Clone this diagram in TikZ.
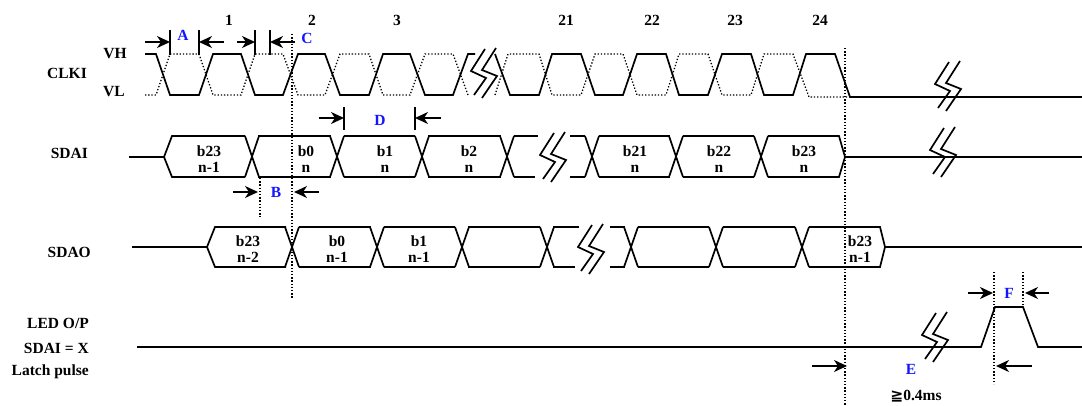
\documentclass[tikz,border=0pt]{standalone}
\usepackage{fontspec}
\setmainfont{Liberation Serif}
\newfontfamily\symfont{DejaVu Sans}
\usetikzlibrary{arrows.meta}
\definecolor{labelblue}{RGB}{20,20,255}
\tikzset{
  sig/.style={black,line width=1.7pt,line join=miter},
  dots/.style={black,line width=1.3pt,dash pattern=on 1.3pt off 1.9pt},
  tick/.style={black,line width=1.7pt},
  dim/.style={black,line width=1.7pt,-{Stealth[length=13pt,width=12pt,inset=4pt]}},
  txt/.style={font=\fontsize{15.5}{16.5}\selectfont\bfseries,inner sep=0pt,align=center},
  sidelabel/.style={txt,anchor=east},
  timelabel/.style={txt,text=labelblue}
}
% double zigzag that marks a gap in time
\newcommand{\zigbreak}[2]{
  \draw [sig,shift={(#1,#2)}] (0,0) -- (-14,22) -- (1,29) -- (-11,46);
  \draw [sig,shift={(#1,#2)}] (11,-1) -- (-3,21) -- (12,27) -- (-3,49);
}
% one bus crossing: #1 centre x, #2 top y, #3 bottom y
\newcommand{\buscross}[3]{
  \draw [sig] (#1-7,#2) -- (#1+7,#3);
  \draw [sig] (#1+7,#2) -- (#1-7,#3);
}
\begin{document}
\begin{tikzpicture}[x=1pt,y=-1pt]
\useasboundingbox (0,0) rectangle (1082,405);
% clock
\draw [sig] (145,54) -- (156,54) -- (170,95) -- (199,95) -- (213,54) -- (241,54) -- (255,95) -- (283,95) -- (298,54) -- (325,54) -- (340,95) -- (369,95) -- (383,54) -- (410,54) -- (425,95) -- (453,95) -- (468,54) -- (475,54);
\draw [dots] (145,95) -- (156,95) -- (170,54) -- (199,54) -- (213,95) -- (241,95) -- (255,54) -- (283,54) -- (298,95) -- (325,95) -- (340,54) -- (369,54) -- (383,95) -- (410,95) -- (425,54) -- (453,54) -- (468,95);
\draw [sig] (495,54) -- (510,95) -- (539,95) -- (552,54) -- (581,54) -- (595,95) -- (623,95) -- (637,54) -- (666,54) -- (679,95) -- (708,95) -- (722,54) -- (751,54) -- (764,95) -- (793,95) -- (806,54) -- (835,54) -- (850,97) -- (1082,97);
\draw [dots] (495,95) -- (508,54) -- (539,54) -- (552,95) -- (581,95) -- (595,54) -- (623,54) -- (637,95) -- (666,95) -- (679,54) -- (708,54) -- (722,95) -- (751,95) -- (764,54) -- (793,54) -- (809,97) -- (850,97);
\zigbreak{485}{49}
\zigbreak{949}{62}
% SDAI
\draw [sig] (129,157) -- (164,157) -- (172,136) -- (245,136);
\draw [sig] (164,157) -- (172,177) -- (245,177);
\foreach \cx in {252,337,422,507,592,676,761} {\buscross{\cx}{136}{177}}
\foreach \xa/\xb in {258/331,344/415,428/501,599/670,683/754} {
  \draw [sig] (\xa,136) -- (\xb,136);
  \draw [sig] (\xa,177) -- (\xb,177);
}
\draw [sig] (514,136) -- (538,136);
\draw [sig] (514,177) -- (535,177);
\draw [sig] (570,136) -- (585,136);
\draw [sig] (570,177) -- (585,177);
\draw [sig] (768,136) -- (839,136) -- (845,157) -- (839,177) -- (768,177);
\draw [sig] (845,157) -- (1082,157);
\zigbreak{554}{133}
\zigbreak{944}{128}
% SDAO
\draw [sig] (132,247) -- (207,247) -- (215,227) -- (286,227);
\draw [sig] (207,247) -- (215,267) -- (286,267);
\foreach \cx in {292,377,462,547,631,716,802} {\buscross{\cx}{227}{267}}
\foreach \xa/\xb in {299/371,384/455,468/540,638/709,723/795} {
  \draw [sig] (\xa,227) -- (\xb,227);
  \draw [sig] (\xa,267) -- (\xb,267);
}
\draw [sig] (553,227) -- (579,227);
\draw [sig] (553,267) -- (575,267);
\draw [sig] (610,227) -- (625,227);
\draw [sig] (610,267) -- (625,267);
\draw [sig] (809,227) -- (880,227) -- (885,247) -- (880,267) -- (809,267);
\draw [sig] (885,247) -- (1082,247);
\zigbreak{592}{225}
% latch
\draw [sig] (137,347) -- (981,347) -- (995,307) -- (1023,307) -- (1038,347) -- (1082,347);
\zigbreak{936}{313}
% dotted guides
\draw [dots] (292,34) -- (292,298);
\draw [dots] (845,48) -- (845,405);
\draw [dots] (260,178) -- (260,217);
\draw [dots] (994,272) -- (994,384);
\draw [dots] (1023,272) -- (1023,307);
% ticks and arrows
\foreach \tx in {170,199,255,270} {\draw [tick] (\tx,30) -- (\tx,55);}
\foreach \tx in {344,415} {\draw [tick] (\tx,107) -- (\tx,130);}
\draw [dim] (145,42) -- (170,42);
\draw [dim] (224,42) -- (199,42);
\draw [dim] (237,42) -- (255,42);
\draw [dim] (295,42) -- (270,42);
\draw [dim] (319,118) -- (344,118);
\draw [dim] (441,118) -- (415,118);
\draw [dim] (233,192) -- (258,192);
\draw [dim] (319,192) -- (294,192);
\draw [dim] (812,366) -- (847,366);
\draw [dim] (1032,366) -- (996,366);
\draw [dim] (968,293) -- (993,293);
\draw [dim] (1049,293) -- (1025,293);
% clock numbers
\node [txt] (n1) at (229,20) {1};
\node [txt] (n2) at (312,20) {2};
\node [txt] (n3) at (397,20) {3};
\node [txt] (n21) at (566,20) {21};
\node [txt] (n22) at (652,20) {22};
\node [txt] (n23) at (735,20) {23};
\node [txt] (n24) at (820,20) {24};
% signal names
\node [txt] (vh) at (115,54) {VH};
\node [txt] (vl) at (114,92) {VL};
\node [sidelabel] (clki) at (87,73) {CLKI};
\node [sidelabel] (sdai) at (88,153) {SDAI};
\node [sidelabel] (sdao) at (91,252) {SDAO};
\node [sidelabel] (ledop) at (89,323) {LED O/P};
\node [sidelabel] (sdaix) at (89,348) {SDAI = X};
\node [sidelabel] (latch) at (89,372) {Latch pulse};
% timing letters
\node [timelabel] (la) at (183,35) {A};
\node [timelabel] (lb) at (276,192) {B};
\node [timelabel] (lc) at (307,38) {C};
\node [timelabel] (ld) at (380,120) {D};
\node [timelabel] (le) at (911,369) {E};
\node [timelabel] (lf) at (1009,293) {F};
\node [txt] (emin) at (916,396) {{\symfont ≧}0.4ms};
% bus contents
\node [txt] (i23a) at (209,159) {b23\\n-1};
\node [txt] (i0) at (306,159) {b0\\n};
\node [txt] (i1) at (385,159) {b1\\n};
\node [txt] (i2) at (469,159) {b2\\n};
\node [txt] (i21) at (635,159) {b21\\n};
\node [txt] (i22) at (719,159) {b22\\n};
\node [txt] (i23) at (804,159) {b23\\n};
\node [txt] (o23a) at (248,249) {b23\\n-2};
\node [txt] (o0) at (337,249) {b0\\n-1};
\node [txt] (o1) at (419,249) {b1\\n-1};
\node [txt] (o23) at (860,249) {b23\\n-1};
\end{tikzpicture}
\end{document}
